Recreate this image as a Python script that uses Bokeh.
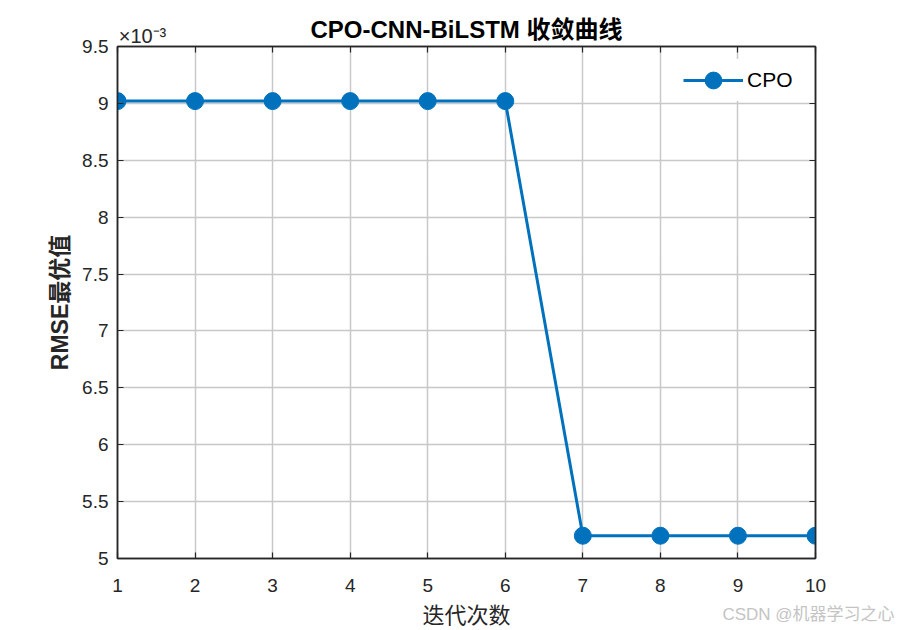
import json
from bokeh.plotting import figure
from bokeh.models import (FixedTicker, CustomJSTickFormatter, LinearAxis,
                          Range1d, Legend, CustomLabelingPolicy)
from bokeh.embed import file_html
from bokeh.resources import INLINE

# ---- data ----
iterations = [1, 2, 3, 4, 5, 6, 7, 8, 9, 10]
rmse_best = [0.00902, 0.00902, 0.00902, 0.00902, 0.00902, 0.00902,
             0.00520, 0.00520, 0.00520, 0.00520]
x_ticks = [1, 2, 3, 4, 5, 6, 7, 8, 9, 10]
y_ticks = [0.005, 0.0055, 0.006, 0.0065, 0.007, 0.0075, 0.008, 0.0085, 0.009, 0.0095]
title_text = "CPO-CNN-BiLSTM 收敛曲线"
x_label = "迭代次数"
y_label = "RMSE最优值"
exponent_text = "×10⁻³"
series_name = "CPO"
watermark = "CSDN @机器学习之心"

LAT = "'Liberation Sans', 'Noto Sans CJK SC'"
DARK = "#262626"
BLUE = "#0072BD"

W, H = 898, 630
ML, MR, MT, MB = 117, 83, 46, 71

p = figure(width=W, height=H, output_backend="svg", toolbar_location=None,
           title=None,
           x_range=Range1d(1, 10), y_range=Range1d(0.005, 0.0095),
           min_border_left=ML, min_border_right=MR, min_border_top=MT,
           min_border_bottom=MB)
p.background_fill_color = "white"
p.border_fill_color = "white"
p.outline_line_color = DARK
p.outline_line_width = 1.5

KEEP_NONE = "for (const i of Array.from(indices)) { indices.unset(i) }"
KEEP_FIRST = ("for (const i of Array.from(indices)) { if (i != 0) indices.unset(i) }\n"
              "return indices;")

def style_axis(ax):
    ax.axis_line_color = DARK
    ax.axis_line_width = 1.5
    ax.major_tick_line_color = DARK
    ax.major_tick_line_width = 1.2
    ax.major_tick_in = 6
    ax.major_tick_out = 0
    ax.minor_tick_line_color = None
    ax.major_label_text_font = LAT
    ax.major_label_text_font_size = "19px"
    ax.major_label_text_color = DARK

xa = p.xaxis[0]
ya = p.yaxis[0]
xa.ticker = FixedTicker(ticks=x_ticks)
ya.ticker = FixedTicker(ticks=y_ticks)
ya.formatter = CustomJSTickFormatter(code="return String(Math.round(tick*10000)/10);")
style_axis(xa)
style_axis(ya)
xa.major_label_standoff = 20
ya.major_label_standoff = 9
ya.axis_label = y_label
ya.axis_label_text_font = LAT
ya.axis_label_text_font_style = "bold"
ya.axis_label_text_font_size = "23px"
ya.axis_label_text_color = DARK
ya.axis_label_standoff = 6

# top axis: inner ticks, exponent label at the first tick, title as axis label
top_ax = LinearAxis(ticker=FixedTicker(ticks=x_ticks))
style_axis(top_ax)
top_ax.major_label_policy = CustomLabelingPolicy(code=KEEP_FIRST)
top_ax.formatter = CustomJSTickFormatter(
    code="return " + json.dumps("\u00a0" * 9 + exponent_text) + ";")
top_ax.major_label_text_font_size = "20px"
top_ax.major_label_standoff = 0
top_ax.axis_label = title_text
top_ax.axis_label_text_font = LAT
top_ax.axis_label_text_font_style = "bold"
top_ax.axis_label_text_font_size = "24px"
top_ax.axis_label_text_color = "black"
top_ax.axis_label_standoff = -21
p.add_layout(top_ax, "above")

# right axis: inner ticks only
right_ax = LinearAxis(ticker=FixedTicker(ticks=y_ticks))
style_axis(right_ax)
right_ax.major_label_policy = CustomLabelingPolicy(code=KEEP_NONE)
right_ax.major_label_standoff = 0
p.add_layout(right_ax, "right")

# outer bottom axis: watermark (as a label) and the x-axis title on the same row
p.extra_x_ranges = {"frac": Range1d(0, 1)}
wm_ax = LinearAxis(x_range_name="frac", ticker=FixedTicker(ticks=[0.99]))
wm_ax.axis_line_color = None
wm_ax.major_tick_in = 0
wm_ax.major_tick_out = 0
wm_ax.minor_tick_line_color = None
wm_ax.formatter = CustomJSTickFormatter(code="return " + json.dumps(watermark) + ";")
wm_ax.major_label_text_font = LAT
wm_ax.major_label_text_font_size = "17px"
wm_ax.major_label_text_color = "#c4c4c4"
wm_ax.major_label_standoff = 10
wm_ax.axis_label = x_label
wm_ax.axis_label_text_font = LAT
wm_ax.axis_label_text_font_style = "normal"
wm_ax.axis_label_text_font_size = "22px"
wm_ax.axis_label_text_color = DARK
wm_ax.axis_label_standoff = -24
p.add_layout(wm_ax, "below")

p.xgrid.ticker = FixedTicker(ticks=x_ticks)
p.ygrid.ticker = FixedTicker(ticks=y_ticks)
p.grid.grid_line_color = "#c8c8c8"
p.grid.grid_line_width = 1.5

r_line = p.line(iterations, rmse_best, line_color=BLUE, line_width=3)
r_pts = p.scatter(iterations, rmse_best, size=17, fill_color=BLUE, line_color=BLUE,
                  marker="circle")

legend = Legend(items=[(series_name, [r_line, r_pts])], location="top_right")
legend.border_line_color = None
legend.background_fill_color = "white"
legend.background_fill_alpha = 1
legend.label_text_font = LAT
legend.label_text_font_size = "21px"
legend.label_text_color = "black"
legend.glyph_width = 60
legend.glyph_height = 42
legend.label_standoff = 4
legend.label_width = 55
legend.margin = 13
legend.padding = 0
p.add_layout(legend, "center")

open("out.html", "w").write(file_html(p, INLINE))
